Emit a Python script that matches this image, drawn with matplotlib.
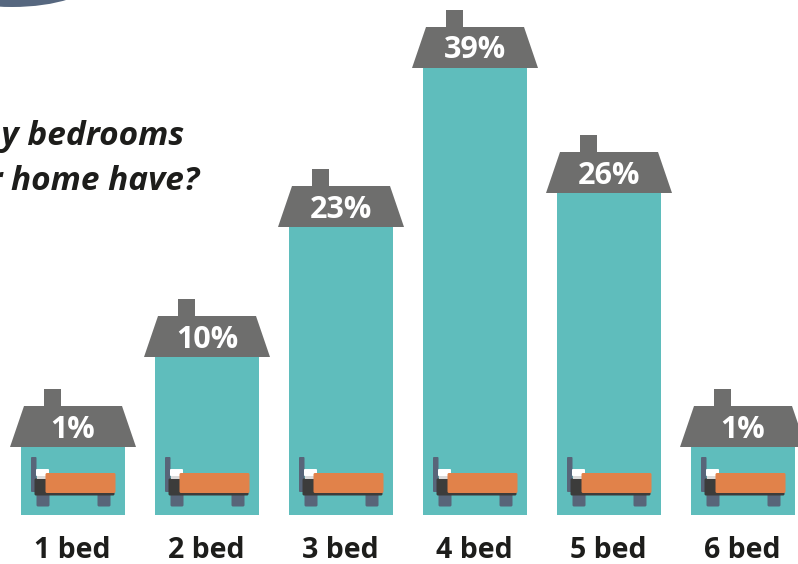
import matplotlib.pyplot as plt
from matplotlib.patches import Polygon, Rectangle, FancyBboxPatch, Ellipse
from matplotlib.transforms import Affine2D
import numpy as np

# Data
categories = ['1 bed', '2 bed', '3 bed', '4 bed', '5 bed', '6 bed']
shares = [1, 10, 23, 39, 26, 1]              # printed labels
bar_heights = [1.0, 10.0, 23.0, 38.9, 26.4, 1.0]  # as drawn in the picture
question = ['How many bedrooms', 'does your home have?']

teal = '#5fbdbc'
roof_grey = '#6e6e6d'
slate = '#586579'
orange = '#e1824a'
dark = '#3c3c3b'

plt.rcParams['font.family'] = ['Open Sans', 'DejaVu Sans']

fig = plt.figure(figsize=(7.98, 5.64), dpi=100)
ax = fig.add_axes([0, 0, 1, 1])
ax.set_xlim(-0.5448, 5.4104)
ax.set_ylim(-10.7, 45.7)
ax.axis('off')

x = np.arange(len(categories))
base = -5.8
ax.bar(x, np.array(bar_heights) - base, bottom=base, width=0.776, color=teal)


def anchored(px, py):
    # offsets below are in pixels from a point on the data scale
    return Affine2D().translate(*ax.transData.transform((px, py)))


def add_house(cx, top, label):
    tr = anchored(cx, top)
    ax.add_patch(Rectangle((-29, 41), 17, 17, color=roof_grey, lw=0, transform=tr))
    ax.add_patch(Polygon([(-63, 0), (63, 0), (49, 41), (-49, 41)],
                         closed=True, color=roof_grey, lw=0, transform=tr))
    ax.text(0, 21, label, color='white', fontsize=22, fontweight='bold',
            ha='center', va='center_baseline', transform=tr)


def add_bed(cx):
    tr = anchored(cx, base)
    ax.add_patch(FancyBboxPatch((-41, 24), 3.5, 33, boxstyle='round,pad=1', color=slate, lw=0, transform=tr))
    for leg_x in (-35, 26):
        ax.add_patch(FancyBboxPatch((leg_x, 10), 10, 10, boxstyle='round,pad=1.5', color=slate, lw=0, transform=tr))
    ax.add_patch(FancyBboxPatch((-37, 21), 77, 14, boxstyle='round,pad=1.5', color=dark, lw=0, transform=tr))
    ax.add_patch(FancyBboxPatch((-36, 40), 11, 5, boxstyle='round,pad=1', color='white', lw=0, transform=tr))
    ax.add_patch(Rectangle((-36, 36), 11, 3, color='#d9d9d9', lw=0, transform=tr))
    ax.add_patch(FancyBboxPatch((-26, 23.5), 67, 17, boxstyle='round,pad=1.5', color=orange, lw=0, transform=tr))


for xi, h, v, name in zip(x, bar_heights, shares, categories):
    add_house(xi, h, f'{v}%')
    add_bed(xi)
    ax.text(xi - 0.004, -10.1, name, color='#1d1d1b', fontsize=20.5, fontweight='bold',
            ha='center', va='baseline')

# Question, running off the left edge
ax.text(0.83, 31.2, question[0], color='#1d1d1b', fontsize=24, fontweight='bold',
        style='italic', ha='right', va='baseline')
ax.text(0.945, 26.7, question[1], color='#1d1d1b', fontsize=24, fontweight='bold',
        style='italic', ha='right', va='baseline')

# Bit of a circle cut off by the top edge
ax.add_patch(Ellipse((-0.455, 47.7), 1.2, 5.4, color='#56677f', lw=0))

fig.savefig('out.png', dpi=100)
